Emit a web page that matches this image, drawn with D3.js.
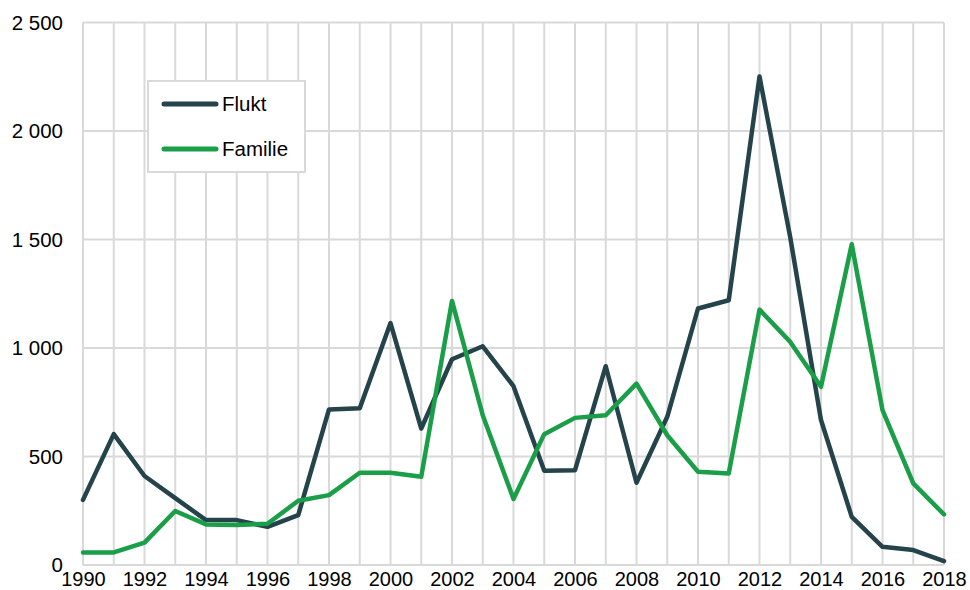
<!DOCTYPE html>
<html>
<head>
<meta charset="utf-8">
<script src="https://cdn.jsdelivr.net/npm/d3@7"></script>
<style>
body { margin: 0; background: #fff; }
svg text { font-family: "Liberation Sans", Arial, sans-serif; fill: #000; }
</style>
</head>
<body>
<svg class="chart" width="970" height="590"></svg>
<script>
var years = d3.range(1990, 2019);
var flukt = [300, 603, 410, 308, 207, 207, 176, 230, 717, 722, 1115, 629, 948, 1008, 824,
             434, 437, 916, 379, 683, 1182, 1220, 2251, 1510, 668, 222, 84, 69, 18];
var familie = [58, 58, 103, 249, 187, 184, 190, 296, 322, 425, 425, 407, 1217, 690, 304,
               603, 678, 690, 836, 598, 430, 422, 1177, 1028, 821, 1478, 714, 376, 233];
var yTicks = [0, 500, 1000, 1500, 2000, 2500];
var xTicks = d3.range(1990, 2019, 2);
var series = [
    {name: "Flukt", values: flukt, color: "#25434a"},
    {name: "Familie", values: familie, color: "#1a9e48"}
];

var svg = d3.select("svg.chart");
var plotLeft = 83, plotRight = 944, plotTop = 22.5, plotBottom = 565;
var fontSize = 20.5;

var x = d3.scaleLinear().domain([1990, 2018]).range([plotLeft, plotRight]);
var y = d3.scaleLinear().domain([0, 2500]).range([plotBottom, plotTop]);

// grid
svg.append("g")
    .selectAll("line")
    .data(years)
    .enter().append("line")
    .attr("x1", function(d){return x(d)})
    .attr("x2", function(d){return x(d)})
    .attr("y1", plotTop)
    .attr("y2", plotBottom)
    .attr("stroke", "#d9d9d9")
    .attr("stroke-width", 2);

svg.append("g")
    .selectAll("line")
    .data(yTicks)
    .enter().append("line")
    .attr("x1", plotLeft)
    .attr("x2", plotRight)
    .attr("y1", function(d){return y(d)})
    .attr("y2", function(d){return y(d)})
    .attr("stroke", "#d9d9d9")
    .attr("stroke-width", 2);

// axes
var yAxis = d3.axisLeft(y).tickValues(yTicks).tickSize(0).tickPadding(20)
    .tickFormat(function(d){return d3.format(",")(d).replace(",", " ")});
var gy = svg.append("g").attr("transform", "translate(" + plotLeft + ",0)").call(yAxis);
gy.select(".domain").remove();
gy.attr("font-size", fontSize).attr("font-family", null);

// x labels sit right at the bottom edge, so keep them a bit tighter
var xAxis = d3.axisBottom(x).tickValues(xTicks).tickSize(0).tickPadding(6.5).tickFormat(d3.format("d"));
var gx = svg.append("g").attr("transform", "translate(0," + plotBottom + ")").call(xAxis);
gx.select(".domain").remove();
gx.attr("font-size", 20).attr("font-family", null);

// lines
var line = d3.line()
    .x(function(d, i){return x(years[i])})
    .y(function(d){return y(d)});

svg.append("g")
    .selectAll("path")
    .data(series)
    .enter().append("path")
    .attr("d", function(d){return line(d.values)})
    .attr("fill", "none")
    .attr("stroke", function(d){return d.color})
    .attr("stroke-width", 4.5)
    .attr("stroke-linejoin", "round")
    .attr("stroke-linecap", "round");

// legend
var legend = svg.append("g");
legend.append("rect")
    .attr("x", 148).attr("y", 81)
    .attr("width", 157).attr("height", 91)
    .attr("fill", "#fff")
    .attr("stroke", "#d9d9d9")
    .attr("stroke-width", 2);

var item = legend.selectAll("g")
    .data(series)
    .enter().append("g")
    .attr("transform", function(d, i){return "translate(0," + (104 + i * 45) + ")"});
item.append("line")
    .attr("x1", 164).attr("x2", 216)
    .attr("stroke", function(d){return d.color})
    .attr("stroke-width", 5)
    .attr("stroke-linecap", "round");
item.append("text")
    .attr("x", 222).attr("y", 7)
    .attr("font-size", fontSize)
    .text(function(d){return d.name});
</script>
</body>
</html>
